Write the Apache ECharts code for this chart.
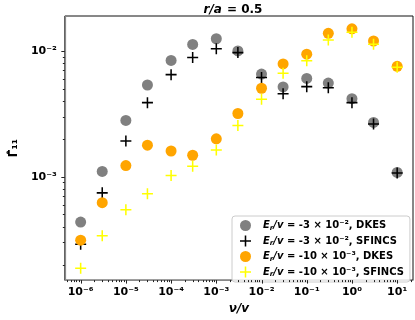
<!DOCTYPE html>
<html><head><meta charset="utf-8">
<script src="https://cdn.jsdelivr.net/npm/echarts@6/dist/echarts.min.js"></script>
<style>html,body{margin:0;padding:0;background:#fff}#c{width:415px;height:320px}</style>
</head><body><div id="c"></div>
<script>
// ---- data ----
const nu = [1e-6, 3e-6, 1e-5, 3e-5, 1e-4, 3e-4, 1e-3, 3e-3, 1e-2, 3e-2, 0.1, 0.3, 1, 3, 10];
const dkes3e2 = [4.35e-4, 1.10e-3, 2.80e-3, 5.36e-3, 8.41e-3, 1.127e-2, 1.25e-2, 1.0e-2, 6.55e-3, 5.17e-3, 6.04e-3, 5.55e-3, 4.17e-3, 2.70e-3, 1.08e-3];
const sfincs3e2 = [2.9e-4, 7.43e-4, 1.92e-3, 3.88e-3, 6.48e-3, 8.88e-3, 1.04e-2, 9.7e-3, 6.14e-3, 4.56e-3, 5.20e-3, 5.1e-3, 3.88e-3, 2.62e-3, 1.07e-3];
const dkes10e3 = [3.12e-4, 6.21e-4, 1.225e-3, 1.78e-3, 1.60e-3, 1.48e-3, 2.0e-3, 3.18e-3, 5.05e-3, 7.89e-3, 9.42e-3, 1.38e-2, 1.50e-2, 1.20e-2, 7.55e-3];
const sfincs10e3 = [1.87e-4, 3.39e-4, 5.45e-4, 7.30e-4, 1.02e-3, 1.21e-3, 1.63e-3, 2.55e-3, 4.12e-3, 6.64e-3, 8.36e-3, 1.22e-2, 1.41e-2, 1.13e-2, 7.42e-3];
const seriesNames = ['Er/v = -3 × 10⁻², DKES', 'Er/v = -3 × 10⁻², SFINCS', 'Er/v = -10 × 10⁻³, DKES', 'Er/v = -10 × 10⁻³, SFINCS'];
const xTickVals = [1e-6, 1e-5, 1e-4, 1e-3, 1e-2, 1e-1, 1, 10];
const yTickVals = [1e-3, 1e-2];

// ---- axis extents ----
const xMin = Math.pow(10, -6.35), xMax = Math.pow(10, 1.35);
const yMin = Math.pow(10, -3.823), yMax = Math.pow(10, -1.722);

function minorTicks(lo, hi) {
  const out = [];
  for (let e = Math.floor(Math.log10(lo)); e <= Math.ceil(Math.log10(hi)); e++) {
    for (let k = 2; k <= 9; k++) {
      const v = k * Math.pow(10, e);
      if (v > lo && v < hi) out.push(v);
    }
  }
  return out;
}
const xMinor = minorTicks(xMin, xMax);
const yMinor = minorTicks(yMin, yMax);

const FONT = 'DejaVu Sans';
const supMap = {'-': '⁻', '0': '⁰', '1': '¹', '2': '²', '3': '³', '4': '⁴', '5': '⁵', '6': '⁶', '7': '⁷', '8': '⁸', '9': '⁹'};
function sup(n) { return String(n).split('').map(c => supMap[c]).join(''); }
function pow10Label(v) { const e = Math.round(Math.log10(v)); return '10' + sup(e); }

const plusPath = 'path://M4.3,0H5.7V4.3H10V5.7H5.7V10H4.3V5.7H0V4.3H4.3Z';
const yMid = Math.pow(10, -2.8), xMid = 1e-3;

function tickSeries(vals, axis, len) {
  return {
    type: 'custom', coordinateSystem: 'cartesian2d', silent: true, clip: false, z: 6,
    data: vals.map(v => axis === 'x' ? [v, yMid] : [xMid, v]),
    renderItem: function (params, api) {
      const cs = params.coordSys;
      const p = api.coord([api.value(0), api.value(1)]);
      if (axis === 'x') {
        const x = Math.round(p[0]) + 0.5, y0 = cs.y + cs.height;
        return {type: 'line', shape: {x1: x, y1: y0, x2: x, y2: y0 + len}, style: {stroke: '#222', lineWidth: 1}};
      }
      const y = Math.round(p[1]) + 0.5, x0 = cs.x;
      return {type: 'line', shape: {x1: x0, y1: y, x2: x0 - len, y2: y}, style: {stroke: '#222', lineWidth: 1}};
    }
  };
}

function pairs(ys) { return nu.map((x, i) => [x, ys[i]]); }

const legendRich = {
  i: {fontFamily: FONT, fontStyle: 'italic', fontWeight: 'bold', fontSize: 10, color: '#000'},
  s: {fontFamily: FONT, fontStyle: 'italic', fontWeight: 'bold', fontSize: 7, color: '#000', padding: [5, 0, 0, 0]},
  b: {fontFamily: FONT, fontWeight: 'bold', fontSize: 10, color: '#000'}
};

const chart = echarts.init(document.getElementById('c'), null, {renderer: 'canvas'});
chart.setOption({
  animation: false,
  backgroundColor: '#fff',
  title: {
    text: '{i|r/a} {b|= 0.5}',
    left: 233, top: 1, textAlign: 'center', padding: 0,
    textStyle: {
      rich: {
        i: {fontFamily: FONT, fontStyle: 'italic', fontWeight: 'bold', fontSize: 12, color: '#000'},
        b: {fontFamily: FONT, fontWeight: 'bold', fontSize: 12, color: '#000'}
      }
    }
  },
  grid: {left: 52, right: 2, top: 16, bottom: 34, show: true, borderColor: '#111', borderWidth: 1, backgroundColor: 'transparent'},
  xAxis: {
    type: 'log', logBase: 10, min: xMin, max: xMax,
    splitLine: {show: false},
    axisLine: {show: true, lineStyle: {color: '#888', width: 1.2}},
    axisTick: {show: false},
    axisLabel: {
      formatter: pow10Label, showMinLabel: false, showMaxLabel: false,
      fontFamily: FONT, fontWeight: 'bold', fontSize: 11, color: '#000', margin: 7
    },
    name: 'ν/v', nameLocation: 'middle', nameGap: 19,
    nameTextStyle: {fontFamily: FONT, fontStyle: 'italic', fontWeight: 'bold', fontSize: 12, color: '#000'}
  },
  yAxis: {
    type: 'log', logBase: 10, min: yMin, max: yMax,
    splitLine: {show: false},
    axisLine: {show: true, lineStyle: {color: '#888', width: 1.2}},
    axisTick: {show: false},
    axisLabel: {
      formatter: pow10Label, showMinLabel: false, showMaxLabel: false,
      fontFamily: FONT, fontWeight: 'bold', fontSize: 11, color: '#000', margin: 8
    },
    name: 'Γ̂₁₁', nameLocation: 'middle', nameGap: 43, nameRotate: 90,
    nameTextStyle: {fontFamily: FONT, fontWeight: 'bold', fontSize: 12, color: '#000'}
  },
  legend: {
    orient: 'vertical', left: 232, top: 216,
    padding: [4, 6, 4, 8], itemGap: 4, itemWidth: 11, itemHeight: 11,
    backgroundColor: 'rgba(255,255,255,0.8)', borderColor: '#ccc', borderWidth: 1, borderRadius: 3,
    data: [
      {name: seriesNames[0], icon: 'circle'},
      {name: seriesNames[1], icon: plusPath},
      {name: seriesNames[2], icon: 'circle'},
      {name: seriesNames[3], icon: plusPath}
    ],
    formatter: function (name) {
      const rest = name.replace('Er/v', '');
      return '{i|E}{s|r}{i|/v}{b|' + rest + '}';
    },
    textStyle: {rich: legendRich, padding: [0, 0, 0, 7], lineHeight: 11}
  },
  series: [
    {name: seriesNames[0], type: 'scatter', symbol: 'circle', symbolSize: 11, z: 2,
      itemStyle: {color: '#808080', opacity: 1}, data: pairs(dkes3e2)},
    {name: seriesNames[1], type: 'scatter', symbol: plusPath, symbolSize: 11, z: 3,
      itemStyle: {color: '#000', opacity: 1}, data: pairs(sfincs3e2)},
    {name: seriesNames[2], type: 'scatter', symbol: 'circle', symbolSize: 11, z: 4,
      itemStyle: {color: '#FFA500', opacity: 1}, data: pairs(dkes10e3)},
    {name: seriesNames[3], type: 'scatter', symbol: plusPath, symbolSize: 11, z: 5,
      itemStyle: {color: '#FFFF00', opacity: 1}, data: pairs(sfincs10e3)},
    tickSeries(xTickVals, 'x', 3.5),
    tickSeries(xMinor, 'x', 2),
    tickSeries(yTickVals, 'y', 3.5),
    tickSeries(yMinor, 'y', 2)
  ]
});
</script>
</body></html>
